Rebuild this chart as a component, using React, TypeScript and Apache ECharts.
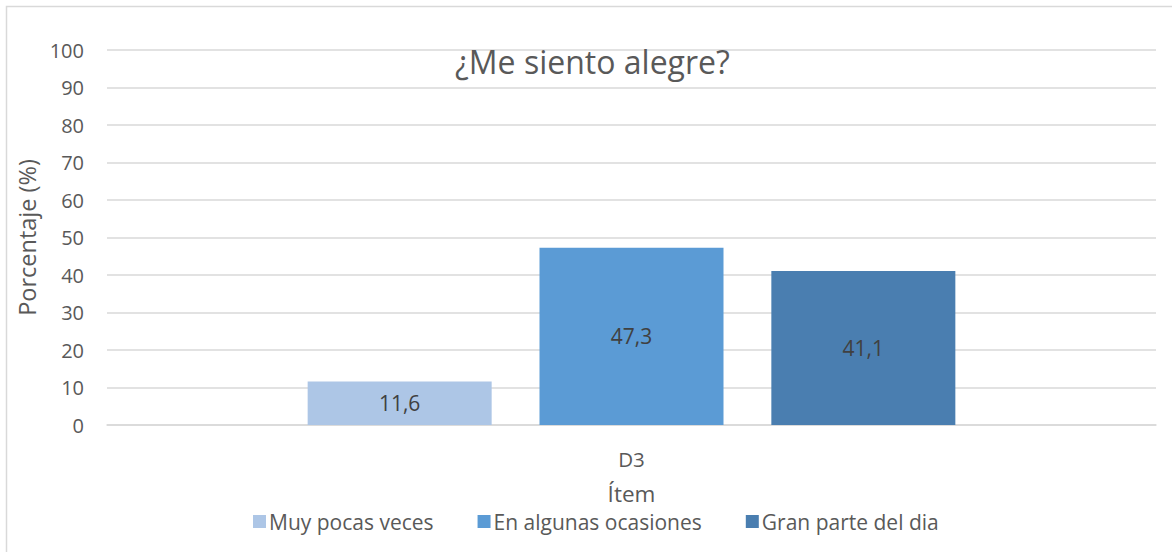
import React, { useEffect, useRef } from "react";
import * as echarts from "echarts";

const categories = ["D3"];
const seriesNames = ["Muy pocas veces", "En algunas ocasiones", "Gran parte del dia"];
const seriesValues = [[11.6], [47.3], [41.1]];
const seriesColors = ["#adc6e6", "#5b9bd5", "#4a7eb0"];
const titleText = "¿Me siento alegre?";
const yName = "Porcentaje (%)";
const xName = "Ítem";

const FONT = "'Open Sans', Lato, sans-serif";

export default function App() {
  const ref = useRef<HTMLDivElement>(null);
  useEffect(() => {
    document.body.style.margin = "0";
    const chart = echarts.init(ref.current!, undefined, { renderer: "svg" });
    chart.setOption({
      animation: false,
      backgroundColor: "#ffffff",
      textStyle: { fontFamily: FONT },
      title: {
        text: titleText,
        left: 450,
        top: 40,
        textStyle: { fontFamily: FONT, fontSize: 32, fontWeight: "normal", color: "#595959" },
      },
      graphic: [
        {
          type: "rect",
          shape: { x: 6.5, y: 6.5, width: 1300, height: 700 },
          style: { fill: "none", stroke: "#d9d9d9", lineWidth: 1.5 },
          silent: true,
        },
      ],
      legend: {
        left: 248,
        top: 506,
        itemWidth: 13,
        itemHeight: 13,
        itemGap: 44,
        icon: "rect",
        textStyle: { fontFamily: FONT, fontSize: 21, color: "#595959", padding: [0, 0, 0, -2] },
        data: seriesNames,
      },
      grid: { left: 107, right: 16, top: 50, bottom: 127, containLabel: false },
      xAxis: {
        type: "category",
        data: categories,
        axisLine: { lineStyle: { color: "#d9d9d9", width: 1.5 } },
        axisTick: { show: false },
        axisLabel: { fontFamily: FONT, fontSize: 20.5, color: "#595959", margin: 23 },
        name: xName,
        nameLocation: "middle",
        nameGap: 57,
        nameTextStyle: { fontFamily: FONT, fontSize: 22.5, color: "#595959" },
      },
      yAxis: {
        type: "value",
        min: 0,
        max: 100,
        interval: 10,
        axisLine: { show: false },
        axisTick: { show: false },
        axisLabel: { fontFamily: FONT, fontSize: 20, color: "#595959", margin: 23 },
        splitLine: { lineStyle: { color: "#d9d9d9", width: 1.5 } },
        name: yName,
        nameLocation: "middle",
        nameGap: 68,
        nameTextStyle: { fontFamily: FONT, fontSize: 23.5, color: "#595959" },
      },
      series: seriesNames.map((name, i) => ({
        name,
        type: "bar",
        data: seriesValues[i],
        barWidth: 184,
        barGap: "26%",
        itemStyle: { color: seriesColors[i] },
        label: {
          show: true,
          position: "inside",
          fontFamily: FONT,
          fontSize: 21,
          color: "#404040",
          formatter: (p: any) => String(p.value).replace(".", ","),
        },
      })),
    });
    return () => chart.dispose();
  }, []);
  return <div ref={ref} style={{ width: 1172, height: 552 }} />;
}
